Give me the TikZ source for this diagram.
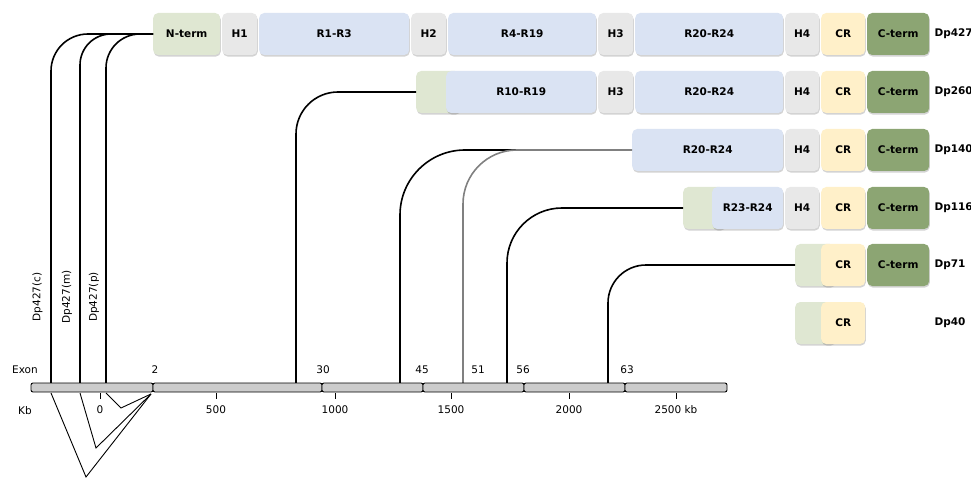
\documentclass[tikz,border=0pt]{standalone}
\usepackage{fontspec}
\setmainfont{DejaVu Sans}
\usetikzlibrary{shadows}
\definecolor{ntermgreen}{HTML}{DFE7D2}
\definecolor{hingegrey}{HTML}{E8E8E8}
\definecolor{rodblue}{HTML}{DAE3F3}
\definecolor{cryellow}{HTML}{FFF0C9}
\definecolor{ctermgreen}{HTML}{8CA573}
\definecolor{exongrey}{HTML}{CCCCCC}

\begin{document}
\begin{tikzpicture}[x=1pt,y=-1pt,
        dom/.style={rounded corners=5pt, anchor=west, minimum height=42pt, inner sep=0pt,
            font=\bfseries\fontsize{10.5}{12}\selectfont,
            drop shadow={shadow xshift=0.6pt, shadow yshift=-1.6pt, opacity=0.35}},
        nterm/.style={dom, fill=ntermgreen},
        hinge/.style={dom, fill=hingegrey},
        rod/.style={dom, fill=rodblue},
        crich/.style={dom, fill=cryellow},
        cterm/.style={dom, fill=ctermgreen},
        isoform/.style={anchor=west, font=\bfseries\fontsize{10.5}{12}\selectfont},
        axislabel/.style={font=\fontsize{10.5}{12}\selectfont},
        exonseg/.style={draw, fill=exongrey, rounded corners=2pt, line width=0.9pt},
        promoter/.style={line width=1.6pt},
        splice/.style={line width=0.9pt}]
        \useasboundingbox (0,0) rectangle (971,478);

        % Dp427
        \node[nterm, minimum width=67pt] (nt427) at (153,34) {N-term};
        \node[hinge, minimum width=35pt] (h1a) at (222,34) {H1};
        \node[rod, minimum width=150pt] (r1a) at (259,34) {R1-R3};
        \node[hinge, minimum width=35pt] (h2a) at (411,34) {H2};
        \node[rod, minimum width=148pt] (r4a) at (448,34) {R4-R19};
        \node[hinge, minimum width=35pt] (h3a) at (598,34) {H3};
        \node[rod, minimum width=148pt] (r20a) at (635,34) {R20-R24};
        \node[hinge, minimum width=34pt] (h4a) at (785,34) {H4};
        \node[crich, minimum width=44pt] (cra) at (821,34) {CR};
        \node[cterm, minimum width=62pt] (cta) at (867,34) {C-term};
        \node[isoform] (dp427) at (931,34) {Dp427};

        % Dp260
        \node[nterm, minimum width=44pt] (nt260) at (416,92) {};
        \node[rod, minimum width=150pt] (r10b) at (446,92) {R10-R19};
        \node[hinge, minimum width=35pt] (h3b) at (598,92) {H3};
        \node[rod, minimum width=148pt] (r20b) at (635,92) {R20-R24};
        \node[hinge, minimum width=34pt] (h4b) at (785,92) {H4};
        \node[crich, minimum width=44pt] (crb) at (821,92) {CR};
        \node[cterm, minimum width=62pt] (ctb) at (867,92) {C-term};
        \node[isoform] (dp260) at (931,92) {Dp260};

        % Dp140
        \node[rod, minimum width=151pt] (r20c) at (632,150) {R20-R24};
        \node[hinge, minimum width=34pt] (h4c) at (785,150) {H4};
        \node[crich, minimum width=44pt] (crc) at (821,150) {CR};
        \node[cterm, minimum width=62pt] (ctc) at (867,150) {C-term};
        \node[isoform] (dp140) at (931,150) {Dp140};

        % Dp116
        \node[nterm, minimum width=42pt] (nt116) at (683,208) {};
        \node[rod, minimum width=71pt] (r23d) at (712,208) {R23-R24};
        \node[hinge, minimum width=34pt] (h4d) at (785,208) {H4};
        \node[crich, minimum width=44pt] (crd) at (821,208) {CR};
        \node[cterm, minimum width=62pt] (ctd) at (867,208) {C-term};
        \node[isoform] (dp116) at (931,208) {Dp116};

        % Dp71
        \node[nterm, minimum width=40pt] (nt71) at (795,265) {};
        \node[crich, minimum width=44pt] (cre) at (821,265) {CR};
        \node[cterm, minimum width=62pt] (cte) at (867,265) {C-term};
        \node[isoform] (dp71) at (931,265) {Dp71};

        % Dp40
        \node[nterm, minimum width=40pt] (nt40) at (795,323) {};
        \node[crich, minimum width=44pt] (crf) at (821,323) {CR};
        \node[isoform] (dp40) at (931,323) {Dp40};

        % promoters
        \coordinate (p427c) at (51,383);
        \coordinate (p427m) at (80,383);
        \coordinate (p427p) at (106,383);
        \coordinate (p260) at (296,383);
        \coordinate (p140) at (400,383);
        \coordinate (p140b) at (463,383);
        \coordinate (j140) at (517,150);
        \coordinate (p116) at (507,383);
        \coordinate (p71) at (608,383);
        \draw[promoter, rounded corners=37pt] (p427c) |- (nt427.west);
        \draw[promoter, rounded corners=31pt] (p427m) |- (nt427.west);
        \draw[promoter, rounded corners=34pt] (p427p) |- (nt427.west);
        \draw[promoter, rounded corners=42pt] (p260) |- (nt260.west);
        \draw[promoter, rounded corners=65pt] (p140) |- (j140);
        \draw[promoter, gray, rounded corners=54pt] (p140b) |- (r20c.west);
        \draw[promoter, rounded corners=55pt] (p116) |- (nt116.west);
        \draw[promoter, rounded corners=38pt] (p71) |- (nt71.west);

        \node[axislabel, rotate=90] (l427c) at (37.5,297) {Dp427(c)};
        \node[axislabel, rotate=90] (l427m) at (67,297) {Dp427(m)};
        \node[axislabel, rotate=90] (l427p) at (94,297) {Dp427(p)};

        % exons and kb scale
        \foreach \a/\b in {31/153,153/322,322/423,423/524,524/625,625/727}
            \draw[exonseg] (\a,383) rectangle (\b,392);
        \node[axislabel] (exon) at (25,370) {Exon};
        \foreach \x/\l in {155/2,323/30,422/45,478/51,523/56,627/63}
            \node[axislabel] (ex\l) at (\x,370) {\l};
        \node[axislabel] (kb) at (25,411) {Kb};
        \foreach \x/\l in {100/0,216/500,335/1000,451/1500,569/2000,676/2500 kb}
            \draw[line width=0.9pt] (\x,393) -- (\x,399) node[axislabel, pos=1, anchor=north, yshift=-3pt] {\l};

        % splicing
        \coordinate (e2) at (151,394);
        \draw[splice] (51,393) -- (86,477) -- (e2);
        \draw[splice] (80,393) -- (96,448) -- (e2);
        \draw[splice] (106,393) -- (121,408) -- (e2);
    \end{tikzpicture}
\end{document}
